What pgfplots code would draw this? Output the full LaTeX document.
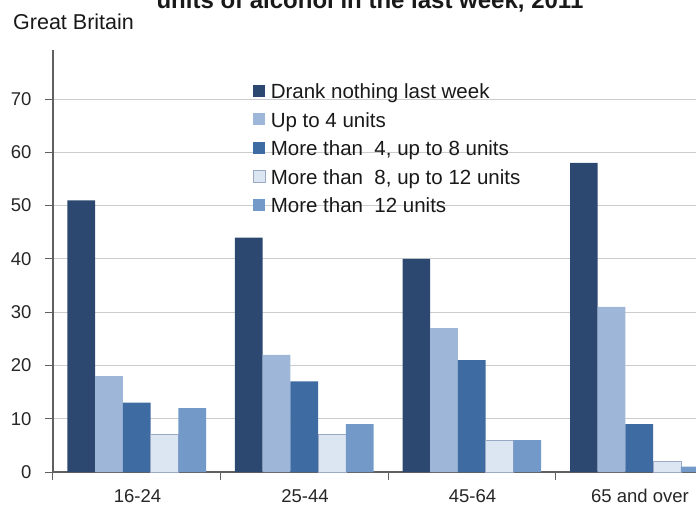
\documentclass[border=0pt]{standalone}
\usepackage{fontspec}
\setmainfont{Liberation Sans}
\usepackage{pgfplots}
\pgfplotsset{compat=1.18}
\definecolor{cA}{HTML}{2C4770}
\definecolor{cB}{HTML}{9EB6D8}
\definecolor{cC}{HTML}{3F6BA3}
\definecolor{cD}{HTML}{DCE5F2}
\definecolor{cDe}{HTML}{9BAAC4}
\definecolor{cE}{HTML}{7399C8}
\definecolor{axc}{HTML}{606060}
\pgfplotsset{sqleg/.style={legend image code/.code={\path[##1] (0pt,-5pt) rectangle (12pt,7pt);}}}
\begin{document}
\begin{tikzpicture}
\useasboundingbox (-53pt,-34pt) rectangle (643pt,472pt);
\clip (-53pt,-34pt) rectangle (643pt,472pt);
\node[anchor=base west, font=\fontsize{24}{28}\selectfont\bfseries, text=black!90] at (100pt,463pt) {units of alcohol in the last week, 2011};
\node[anchor=base west, font=\fontsize{21.5}{25}\selectfont, text=black!90, inner sep=0pt] at (-40pt,442pt) {Great Britain};
\begin{axis}[
  scale only axis, width=670pt, height=422pt,
  xmin=-0.5, xmax=3.5, ymin=0, ymax=79.2,
  ybar=0pt, bar width=27.7pt,
  axis x line*=bottom, axis y line*=left,
  axis line style={draw=axc, line width=1.2pt},
  tick align=outside, major tick length=8pt,
  tick style={draw=axc, line width=1pt},
  ytick={0,10,...,70},
  xtick={-0.5,0.5,1.5,2.5,3.5},
  xticklabels={16-24,25-44,45-64,65 and over,{}},
  x tick label style={xshift=84.5pt, yshift=-6pt},
  y tick label style={xshift=-10pt},
  ymajorgrids, grid style={draw=black!20, line width=0.8pt},
  /pgf/number format/assume math mode=true,
  tick label style={font=\fontsize{18.5}{22}\selectfont, text=black!85},
  legend style={draw=none, fill=none, inner sep=0pt, at={(0.2985,0.9194)}, anchor=north west,
    font=\fontsize{20.5}{24}\selectfont, text=black!90,
    nodes={inner sep=0pt, text height=14.7pt, text depth=0pt},
    row sep=13.8pt, /tikz/every odd column/.append style={column sep=5pt}},
  legend cell align=left,
]
\addplot[sqleg, fill=cA, draw=none] coordinates {(0,51) (1,44) (2,40) (3,58)};
\addplot[sqleg, fill=cB, draw=none] coordinates {(0,18) (1,22) (2,27) (3,31)};
\addplot[sqleg, fill=cC, draw=none] coordinates {(0,13) (1,17) (2,21) (3,9)};
\addplot[sqleg, fill=cD, draw=cDe, line width=0.6pt] coordinates {(0,7) (1,7) (2,6) (3,2)};
\addplot[sqleg, fill=cE, draw=none] coordinates {(0,12) (1,9) (2,6) (3,1)};
\legend{Drank nothing last week, Up to 4 units, {More than\ \ 4, up to 8 units}, {More than\ \ 8, up to 12 units}, More than\ \ 12 units}
\end{axis}
\end{tikzpicture}
\end{document}
